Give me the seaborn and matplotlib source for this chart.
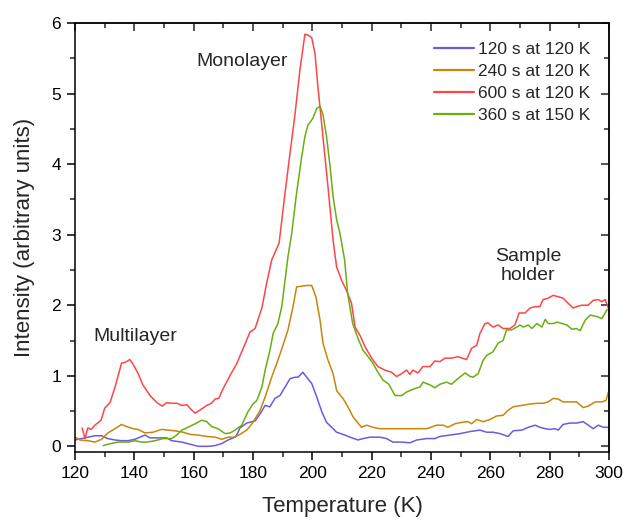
import numpy as np
import pandas as pd
import matplotlib
matplotlib.use("Agg")
import matplotlib.pyplot as plt
import seaborn as sns
from matplotlib.ticker import MultipleLocator

# ---- data ----
series_names = ["120 s at 120 K", "240 s at 120 K", "600 s at 120 K", "360 s at 150 K"]
series_colors = ["#6a5be0", "#c8860a", "#ff4545", "#6aae10"]

t_blue = [120, 122.2, 124.4, 126.7, 129, 131.1, 133.5, 135.7, 137.9, 140.2, 142.5, 143.6, 145.3, 148, 150.9,
          152.6, 156, 158.8, 161.5, 164.9, 167.2, 169.5, 171.6, 173.9, 174.5, 175.6, 177.9, 180.7, 182.4, 184.1,
          185.7, 187.4, 189.1, 190.8, 192.5, 194.2, 195.2, 196.8, 198.1, 199.8, 201.5, 203.2, 204.8, 206.5, 208.2,
          210.3, 212.7, 215.4, 217.1, 219.4, 222.8, 225, 227.2, 230.1, 232.9, 235.2, 238.5, 241.3, 243, 246.4,
          249.8, 253.2, 256.5, 258.8, 260.9, 263.3, 266, 267.7, 270.6, 272.8, 275.1, 276.7, 278.5, 280.1, 281.8,
          282.9, 284.5, 286.8, 289.1, 291.3, 293, 294.7, 296.4, 298.1, 299.8]
i_blue = [0.09, 0.11, 0.13, 0.15, 0.15, 0.11, 0.09, 0.08, 0.08, 0.10, 0.14, 0.16, 0.12, 0.12, 0.12,
          0.08, 0.06, 0.03, 0.0, 0.0, 0.01, 0.04, 0.09, 0.13, 0.16, 0.26, 0.33, 0.36, 0.46, 0.58,
          0.56, 0.68, 0.72, 0.84, 0.96, 0.98, 0.98, 1.05, 0.98, 0.89, 0.70, 0.49, 0.34, 0.27, 0.20,
          0.17, 0.13, 0.09, 0.11, 0.13, 0.13, 0.11, 0.06, 0.06, 0.05, 0.09, 0.11, 0.11, 0.14, 0.16,
          0.18, 0.21, 0.23, 0.20, 0.20, 0.18, 0.14, 0.22, 0.23, 0.27, 0.30, 0.27, 0.25, 0.24, 0.25,
          0.23, 0.31, 0.33, 0.33, 0.35, 0.30, 0.25, 0.30, 0.27, 0.27]

t_orange = [120, 121.7, 124.4, 126.7, 129, 131.1, 133.5, 135.7, 137.4, 139.6, 141.2, 143.6, 146.3, 149.2, 151.4,
            153.7, 156.4, 158.8, 161.5, 164.4, 167.2, 169.5, 171.6, 173.9, 175.6, 177.9, 180, 182.4, 184.1, 186.3,
            188.4, 190.1, 191.8, 193.5, 194.7, 196.4, 198.1, 199.8, 201.2, 202.6, 203.6, 205.3, 207, 208.2, 210.3,
            212, 213.7, 215.4, 216.6, 218.3, 220.4, 222.8, 224.5, 228.4, 231.8, 235.1, 238.5, 241.9, 244.1, 245.7,
            248.1, 250.4, 252.5, 253.7, 255.4, 257.6, 259.9, 262.1, 264.3, 266, 267.7, 270.6, 273.4, 275.7, 277.8,
            279.5, 281.2, 282.9, 284.5, 286.8, 289.1, 291.3, 293, 295.4, 297.6, 299, 299.8]
i_orange = [0.13, 0.09, 0.08, 0.06, 0.10, 0.19, 0.25, 0.31, 0.28, 0.25, 0.24, 0.19, 0.20, 0.24, 0.23,
            0.22, 0.20, 0.17, 0.16, 0.14, 0.13, 0.10, 0.13, 0.13, 0.17, 0.23, 0.34, 0.51, 0.70, 0.98,
            1.22, 1.43, 1.65, 1.98, 2.26, 2.27, 2.28, 2.28, 2.12, 1.79, 1.46, 1.22, 1.03, 0.79, 0.68,
            0.56, 0.42, 0.33, 0.27, 0.30, 0.27, 0.25, 0.25, 0.25, 0.25, 0.25, 0.25, 0.30, 0.30, 0.27,
            0.32, 0.34, 0.35, 0.32, 0.38, 0.35, 0.38, 0.43, 0.44, 0.51, 0.56, 0.58, 0.60, 0.61, 0.61,
            0.63, 0.68, 0.67, 0.63, 0.63, 0.63, 0.55, 0.57, 0.63, 0.63, 0.65, 0.77]

t_red = [122.4, 123.4, 124.3, 125.4, 126.7, 128.8, 130, 131.8, 133.5, 135.7, 136.9, 138.5, 139.5, 141.3, 142.9,
         145.3, 147.6, 149.4, 150.9, 152.6, 154.4, 156, 157.7, 159.4, 160.5, 162, 164.4, 166, 167.2, 168.5,
         169.6, 172.2, 174.5, 176.7, 179, 180.7, 183, 184.6, 186.3, 188.8, 189.3, 190.8, 192.5, 194.2, 195.8,
         197.5, 198.5, 199.8, 200.9, 201.9, 203.6, 205.3, 207, 208.2, 209.9, 211.6, 213.2, 214.4, 216.1, 217.8,
         220, 222.1, 224.5, 226.7, 228.4, 230.1, 231.8, 232.9, 233.9, 235.6, 237.3, 239.7, 241.3, 243, 244.7,
         246.9, 249.1, 252, 253.7, 255.4, 256.5, 258.2, 259.2, 260.9, 262.6, 264.3, 266.6, 268.3, 269.7, 271.7,
         273.4, 275.1, 276.7, 277.8, 279.5, 281.2, 282.9, 284.5, 286.2, 287.9, 289.1, 290.8, 293, 294.7, 296.4,
         297.6, 298.7, 299.8]
i_red = [0.26, 0.11, 0.26, 0.24, 0.30, 0.37, 0.54, 0.62, 0.84, 1.18, 1.19, 1.23, 1.17, 1.03, 0.87,
         0.72, 0.62, 0.57, 0.62, 0.61, 0.61, 0.58, 0.59, 0.51, 0.47, 0.51, 0.58, 0.61, 0.67, 0.68,
         0.79, 1.00, 1.17, 1.39, 1.62, 1.67, 1.96, 2.31, 2.64, 2.88, 3.06, 3.59, 4.16, 4.72, 5.33,
         5.84, 5.83, 5.79, 5.57, 5.09, 4.38, 3.67, 2.92, 2.54, 2.35, 2.20, 2.03, 1.69, 1.57, 1.41,
         1.25, 1.13, 1.08, 1.05, 0.99, 1.03, 1.08, 1.02, 1.08, 1.04, 1.13, 1.13, 1.21, 1.20, 1.25,
         1.25, 1.27, 1.23, 1.39, 1.43, 1.60, 1.74, 1.75, 1.69, 1.72, 1.67, 1.67, 1.72, 1.89, 1.89,
         1.96, 1.98, 1.98, 2.08, 2.10, 2.14, 2.12, 2.10, 2.03, 1.96, 1.98, 2.00, 2.00, 2.07, 2.08,
         2.05, 2.08, 1.96]

t_green = [129.5, 131.1, 134.5, 137.9, 140.2, 142.5, 144.2, 147, 149.7, 152.6, 154.3, 156, 158.1, 160.5, 162.7,
           164.4, 166.1, 168.2, 170.6, 172.3, 173.9, 176.2, 178.3, 180, 181.3, 183, 184.1, 185.7, 186.8, 188.4,
           189.7, 190.8, 191.8, 193, 194.7, 196.4, 197.5, 198.5, 200.2, 201.5, 202.6, 203.6, 204.8, 206, 207,
           208.2, 209.3, 210.9, 211.9, 213.6, 215.4, 217.1, 218.8, 220.4, 222.1, 223.8, 225.8, 227.2, 227.9, 230.1,
           231.8, 234.6, 236.3, 237.3, 239.7, 241.3, 243, 245.3, 246.9, 249.1, 251.5, 253.2, 254.2, 255.9, 257.6,
           258.8, 260.9, 262.6, 264.3, 265.5, 267.2, 268.9, 270, 271.1, 272.8, 274, 275.7, 277.4, 278.5, 279.5,
           281.2, 282.5, 284.2, 285.8, 287.5, 289, 290.3, 292, 293.7, 295.9, 297.6, 298.7, 299.4]
i_green = [0.01, 0.03, 0.06, 0.06, 0.08, 0.06, 0.06, 0.08, 0.11, 0.11, 0.16, 0.23, 0.27, 0.32, 0.37,
           0.35, 0.28, 0.25, 0.18, 0.19, 0.23, 0.30, 0.49, 0.60, 0.65, 0.84, 1.08, 1.36, 1.60, 1.74,
           1.98, 2.35, 2.69, 3.00, 3.59, 4.10, 4.39, 4.55, 4.65, 4.79, 4.82, 4.70, 4.39, 3.96, 3.54,
           3.21, 3.02, 2.64, 2.17, 1.74, 1.53, 1.36, 1.27, 1.18, 1.05, 0.94, 0.88, 0.77, 0.72, 0.72,
           0.77, 0.82, 0.84, 0.91, 0.87, 0.83, 0.88, 0.91, 0.88, 0.96, 1.04, 0.99, 0.98, 1.03, 1.22,
           1.29, 1.34, 1.46, 1.50, 1.65, 1.65, 1.69, 1.72, 1.69, 1.72, 1.67, 1.74, 1.69, 1.80, 1.74,
           1.74, 1.76, 1.74, 1.72, 1.66, 1.67, 1.64, 1.79, 1.86, 1.84, 1.81, 1.89, 1.94]

x_ticks = [120, 140, 160, 180, 200, 220, 240, 260, 280, 300]
y_ticks = [0, 1, 2, 3, 4, 5, 6]

# ---- build long table ----
frames = []
for name, t, v in zip(series_names,
                      [t_blue, t_orange, t_red, t_green],
                      [i_blue, i_orange, i_red, i_green]):
    frames.append(pd.DataFrame({"T": t, "I": v, "series": name}))
df = pd.concat(frames, ignore_index=True)

sns.set_theme(style="ticks")
plt.rcParams["font.family"] = ["Liberation Sans", "DejaVu Sans"]

fig = plt.figure(figsize=(6.26, 5.2), dpi=100)
ax = fig.add_axes([0.1198, 0.1308, 0.853, 0.825])

sns.lineplot(data=df, x="T", y="I", hue="series", hue_order=series_names,
             palette=dict(zip(series_names, series_colors)), sort=False,
             estimator=None, linewidth=1.1, ax=ax)

ax.set_xlim(120, 300)
ax.set_ylim(-0.08, 6)
ax.set_xticks(x_ticks)
ax.set_yticks(y_ticks)
ax.xaxis.set_minor_locator(MultipleLocator(10))
ax.yaxis.set_minor_locator(MultipleLocator(0.5))
ax.tick_params(which="major", direction="out", length=6, width=1.1, labelsize=12.5,
               colors="black", pad=4)
ax.tick_params(which="minor", direction="out", length=3.5, width=1.1)
for s in ax.spines.values():
    s.set_linewidth(1.1)
    s.set_color("black")
    s.set_visible(True)

# top & right mirrored ticks pointing inward
secx = ax.secondary_xaxis("top")
secx.set_xticks(x_ticks)
secx.xaxis.set_minor_locator(MultipleLocator(10))
secx.tick_params(which="major", direction="in", length=6, width=1.1, labeltop=False)
secx.tick_params(which="minor", direction="in", length=3.5, width=1.1)
secx.spines["top"].set_linewidth(1.1)
secy = ax.secondary_yaxis("right")
secy.set_yticks(y_ticks)
secy.yaxis.set_minor_locator(MultipleLocator(0.5))
secy.tick_params(which="major", direction="in", length=6, width=1.1, labelright=False)
secy.tick_params(which="minor", direction="in", length=3.5, width=1.1)
secy.spines["right"].set_linewidth(1.1)

ax.set_xlabel("Temperature (K)", fontsize=16, labelpad=11)
ax.set_ylabel("Intensity (arbitrary units)", fontsize=16, labelpad=12)

ax.text(176.3, 5.45, "Monolayer", fontsize=14, ha="center", va="center")
ax.text(140.2, 1.55, "Multilayer", fontsize=14, ha="center", va="center")
ax.text(272.7, 2.55, "Sample\nholder", fontsize=14, ha="center", va="center",
        linespacing=1.15)

leg = ax.legend(loc="upper left", bbox_to_anchor=(0.672, 0.955), frameon=False,
                fontsize=12.5, handlelength=2.3, handletextpad=0.25,
                labelspacing=0.38, borderaxespad=0, borderpad=0)
for line in leg.get_lines():
    line.set_linewidth(1.6)

fig.savefig("out.png", dpi=100)
